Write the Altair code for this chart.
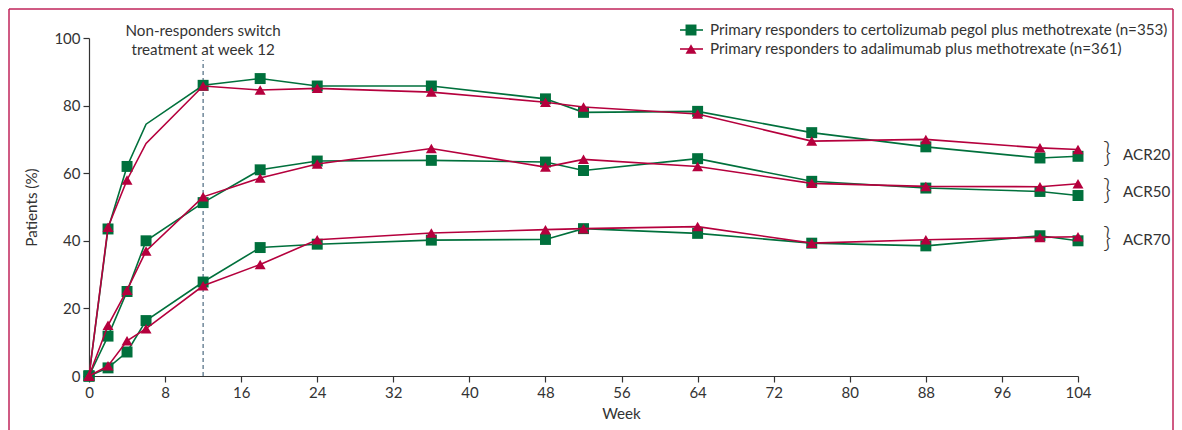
import altair as alt
import pandas as pd

weeks = [0, 2, 4, 6, 12, 18, 24, 36, 48, 52, 64, 76, 88, 100, 104]
czp_acr20 = [0, 43.5, 62, 74.5, 86, 88, 85.8, 85.8, 82, 78, 78.3, 72, 67.8, 64.5, 65]
ada_acr20 = [0, 44, 58, 68.8, 85.8, 84.6, 85.1, 84, 81, 79.6, 77.5, 69.5, 70, 67.5, 67]
czp_acr50 = [0, 11.8, 25, 40, 51.3, 61, 63.6, 63.8, 63.3, 60.8, 64.3, 57.6, 55.6, 54.6, 53.4]
ada_acr50 = [0, 15, 25.4, 37, 53, 58.6, 62.7, 67.3, 61.8, 64.1, 62, 57, 56.1, 56, 56.9]
czp_acr70 = [0, 2.4, 7.1, 16.4, 27.8, 38, 39, 40.2, 40.4, 43.6, 42.2, 39.3, 38.5, 41.5, 40]
ada_acr70 = [0, 3, 10.4, 14, 26.7, 33, 40.3, 42.3, 43.3, 43.6, 44.2, 39.3, 40.3, 41, 41.2]

treatments = [
    "Primary responders to certolizumab pegol plus methotrexate (n=353)",
    "Primary responders to adalimumab plus methotrexate (n=361)",
]
measures = ["ACR20", "ACR50", "ACR70"]
label_y = [65.4, 54.4, 40.2]
switch_week = 12
switch_text = ["Non-responders switch", "treatment at week 12"]

GREEN = "#00703C"
RED = "#B5003D"
FONT = "Lato"
TXT = "#333333"
FRAME = "#C0245A"
FS = 15.2

series = {
    (treatments[0], "ACR20"): czp_acr20,
    (treatments[1], "ACR20"): ada_acr20,
    (treatments[0], "ACR50"): czp_acr50,
    (treatments[1], "ACR50"): ada_acr50,
    (treatments[0], "ACR70"): czp_acr70,
    (treatments[1], "ACR70"): ada_acr70,
}
rows = []
for (t, m), vals in series.items():
    for w, v in zip(weeks, vals):
        rows.append({"treatment": t, "measure": m, "week": w, "pct": v})
df = pd.DataFrame(rows)

W, H = 989, 338

xscale = alt.Scale(domain=[0, 104], nice=False)
yscale = alt.Scale(domain=[0, 100], nice=False)

xaxis = alt.Axis(values=list(range(0, 105, 8)), title="Week", grid=False,
                 tickSize=6, labelPadding=3, titleX=532, titleY=37,
                 titleBaseline="middle", labelFlush=False)
yaxis = alt.Axis(values=list(range(0, 101, 20)), title="Patients (%)", grid=False,
                 tickSize=6, labelPadding=3, titlePadding=14)


def series_layers(t, color, shape, size):
    base = alt.Chart(df).transform_filter(alt.datum.treatment == t)
    line = base.mark_line(color=color, strokeWidth=1.6).encode(
        x=alt.X("week:Q", scale=xscale, axis=xaxis),
        y=alt.Y("pct:Q", scale=yscale, axis=yaxis),
        detail="measure:N",
    )
    pts = base.transform_filter(
        "!(datum.measure == 'ACR20' && datum.week == 6)"
    ).mark_point(shape=shape, filled=True, opacity=1, color=color, size=size).encode(
        x="week:Q", y="pct:Q"
    )
    return line + pts


green = series_layers(treatments[0], GREEN, "square", 120)
red = series_layers(treatments[1], RED, "triangle-up", 120)

switch_df = pd.DataFrame({"week": [switch_week], "top": [93.5], "bottom": [0]})
switch_rule = alt.Chart(switch_df).mark_rule(color="#4D6A80", strokeDash=[4, 3], strokeWidth=1.2).encode(
    x="week:Q", y="bottom:Q", y2="top:Q"
)
ann_df = pd.DataFrame({"week": [switch_week, switch_week], "line": switch_text, "py": [-7, 12]})
ann = alt.Chart(ann_df).mark_text(font=FONT, fontSize=FS, color=TXT, baseline="middle").encode(
    x="week:Q", y=alt.Y("py:Q", scale=None), text="line:N"
)

lab_df = pd.DataFrame({"measure": measures, "y": label_y})
braces = alt.Chart(lab_df).mark_text(text="}", font=FONT, fontSize=28, fontWeight=300,
                                     color=TXT, baseline="middle", dy=-1).encode(
    x=alt.value(1018), y="y:Q"
)
labs = alt.Chart(lab_df).mark_text(font=FONT, fontSize=FS, color=TXT, align="left",
                                   baseline="middle").encode(
    x=alt.value(1034), y="y:Q", text="measure:N"
)

# legend (manual, line-through-symbol style)
leg_df = pd.DataFrame({"treatment": treatments, "py": [-8, 11]})
leg_scale = alt.Scale(domain=treatments, range=[GREEN, RED])
leg_line = alt.Chart(leg_df).mark_rule(strokeWidth=1.6).encode(
    x=alt.value(591), x2=alt.value(614), y=alt.Y("py:Q", scale=None),
    color=alt.Color("treatment:N", scale=leg_scale, legend=None),
)
leg_pts = alt.Chart(leg_df).mark_point(filled=True, opacity=1, size=120).encode(
    x=alt.value(602), y=alt.Y("py:Q", scale=None),
    color=alt.Color("treatment:N", scale=leg_scale, legend=None),
    shape=alt.Shape("treatment:N", scale=alt.Scale(domain=treatments, range=["square", "triangle-up"]), legend=None),
)
leg_txt = alt.Chart(leg_df).mark_text(font=FONT, fontSize=FS, color=TXT, align="left",
                                      baseline="middle").encode(
    x=alt.value(621), y=alt.Y("py:Q", scale=None), text="treatment:N"
)

# figure frame
frame_top = alt.Chart(leg_df).mark_rule(color=FRAME, strokeWidth=1).encode(
    x=alt.value(-80), x2=alt.value(1084), y=alt.value(-29))
frame_left = alt.Chart(leg_df).mark_rule(color=FRAME, strokeWidth=1).encode(
    x=alt.value(-80), y=alt.value(-29), y2=alt.value(400))
frame_right = alt.Chart(leg_df).mark_rule(color=FRAME, strokeWidth=1).encode(
    x=alt.value(1084), y=alt.value(-29), y2=alt.value(400))

chart = alt.layer(
    frame_top, frame_left, frame_right,
    switch_rule, green, red, ann, braces, labs, leg_line, leg_pts, leg_txt
).properties(
    width=W, height=H,
    autosize=alt.AutoSizeParams(type="none"),
    padding={"left": 81, "top": 30, "right": 96, "bottom": 54},
).configure_view(stroke=None).configure_axis(
    labelFont=FONT, titleFont=FONT, labelFontSize=15, titleFontSize=FS,
    labelColor=TXT, titleColor=TXT, domainColor=TXT, tickColor=TXT,
    titleFontWeight="normal", domainWidth=1.2, tickWidth=1.2,
)

chart.save("out.html", embed_options={"renderer": "svg", "actions": False})
